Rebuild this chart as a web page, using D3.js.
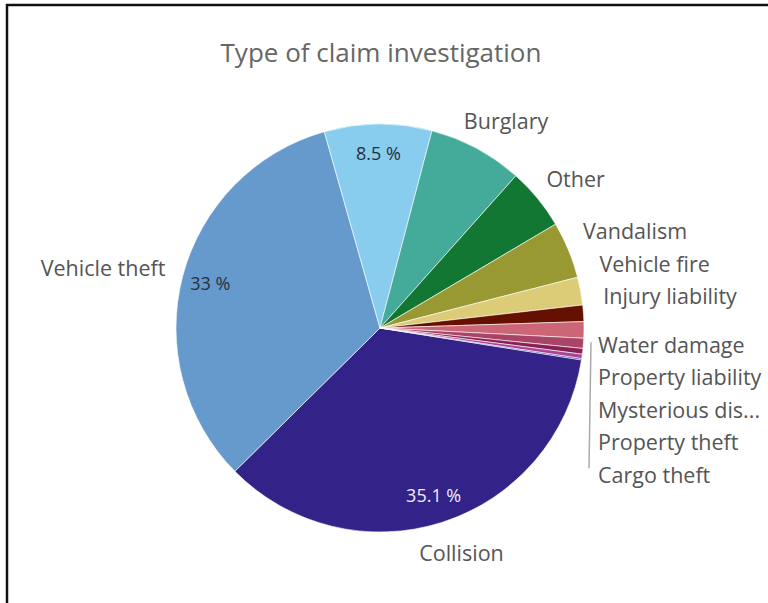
<!DOCTYPE html>
<html lang="en">

<head>
    <meta charset="UTF-8">
    <script src="https://d3js.org/d3.v7.min.js"></script>
    <style>
        body {
            margin: 0;
            background: #fff;
        }

        text {
            font-family: "Open Sans", sans-serif;
        }
    </style>
    <title>Type of claim investigation</title>
</head>

<body>
    <div class="canvas"></div>
    <script>
        // data (share of investigations, %)
        const categories = ['Collision', 'Vehicle theft', '', 'Burglary', 'Other', 'Vandalism', 'Vehicle fire',
            'Injury liability', 'Water damage', 'Property liability', 'Mysterious disappearance',
            'Property theft', 'Cargo theft']
        const values = [35.1, 33.0, 8.5, 7.5, 4.9, 4.5, 2.2, 1.3, 1.3, 0.8, 0.45, 0.35, 0.1]
        const palette = ['#332288', '#6699cc', '#88ccee', '#44aa99', '#117733', '#999933',
            '#ddcc77', '#661100', '#cc6677', '#aa4466', '#882255', '#aa4499']
        const title = 'Type of claim investigation'

        const areaWidth = 768
        const areaHeight = 603
        const svg = d3.select('.canvas')
            .append('svg')
            .attr('width', areaWidth)
            .attr('height', areaHeight)

        // frame of the screenshot
        svg.append('path')
            .attr('d', `M7,${areaHeight} V5 H${areaWidth}`)
            .attr('fill', 'none')
            .attr('stroke', '#111')
            .attr('stroke-width', 2.5)

        svg.append('text')
            .attr('x', 381)
            .attr('y', 52)
            .attr('text-anchor', 'middle')
            .attr('dominant-baseline', 'central')
            .attr('fill', '#666')
            .style('font-size', '26px')
            .text(title)

        const [cx, cy, radius] = [380, 328, 204]
        const labelR = radius + 20
        const lineGap = 32.5
        const labelSize = 21.5
        const start = 99 * Math.PI / 180

        const color = d3.scaleOrdinal()
            .domain(d3.range(values.length))
            .range(palette)

        const pie = d3.pie()
            .sort(null)
            .startAngle(start)
            .endAngle(start + 2 * Math.PI)
        const arcs = pie(values)
        const total = d3.sum(values)

        const arc = d3.arc().innerRadius(0).outerRadius(radius)
        const pctArc = d3.arc().innerRadius(radius * 0.86).outerRadius(radius * 0.86)

        const graph = svg.append('g')
            .attr('transform', `translate(${cx},${cy})`)

        graph.selectAll('path')
            .data(arcs)
            .enter()
            .append('path')
            .attr('d', arc)
            .attr('fill', d => color(d.index))
            .attr('stroke', '#fff')
            .attr('stroke-width', 0.6)

        // percentages inside the big slices
        const fmt = d3.format('.3~r')
        graph.selectAll('.pct')
            .data(arcs.filter(d => d.value / total >= 0.08))
            .enter()
            .append('text')
            .attr('class', 'pct')
            .attr('x', d => pctArc.centroid(d)[0])
            .attr('y', d => pctArc.centroid(d)[1])
            .attr('text-anchor', 'middle')
            .attr('dominant-baseline', 'central')
            .attr('fill', d => d3.hsl(color(d.index)).l < 0.4 ? '#eeeeff' : '#26303c')
            .style('font-size', '18px')
            .text(d => fmt(d.value / total * 100) + ' %')

        // outer labels
        const labels = arcs.filter(d => categories[d.index] !== '').map(d => {
            let mid = (d.startAngle + d.endAngle) / 2 % (2 * Math.PI)
            const deg = mid * 180 / Math.PI
            const kind = deg > 0 && deg <= 90 ? 'right' : (deg > 90 && deg < 135 ? 'group' : 'free')
            return { d, mid, kind, name: categories[d.index] }
        })

        const labelG = svg.append('g')
        labels.forEach(l => {
            l.el = labelG.append('text')
                .attr('dominant-baseline', 'central')
                .attr('fill', '#555')
                .style('font-size', labelSize + 'px')
                .text(l.name)
            l.w = l.el.node().getComputedTextLength()
            l.h = labelSize * 1.1
            const ax = cx + labelR * Math.sin(l.mid)
            const ay = cy - labelR * Math.cos(l.mid)
            l.x = ax - l.w * (1 - Math.sin(l.mid)) / 2
            l.y = ay - l.h / 2 * Math.cos(l.mid)
        })

        // small slices: stacked list with a bracket
        const group = labels.filter(l => l.kind === 'group')
        const groupTop = cy + lineGap / 2
        const groupX = cx + radius + 14
        group.forEach((l, i) => {
            l.x = groupX
            l.y = groupTop + i * lineGap
        })

        // right side labels pushed up so they clear the stacked list
        const right = labels.filter(l => l.kind === 'right').sort((a, b) => b.y - a.y)
        let limit = group.length ? groupTop - lineGap * 1.5 : Infinity
        right.forEach(l => {
            l.y = Math.min(l.y, limit)
            limit = l.y - lineGap
        })

        labels.forEach(l => {
            const maxW = areaWidth - l.x - 1
            if (l.w > maxW) {
                let n = l.name.length
                while (n > 1 && l.el.node().getComputedTextLength() > maxW) {
                    n--
                    l.el.text(l.name.slice(0, n).trimEnd() + '...')
                }
            }
            l.el.attr('x', l.x).attr('y', l.y)
        })

        if (group.length > 1) {
            svg.append('line')
                .attr('x1', groupX - 7)
                .attr('x2', groupX - 9)
                .attr('y1', group[0].y - 2)
                .attr('y2', group[group.length - 1].y - 6)
                .attr('stroke', '#aaa')
                .attr('stroke-width', 1.5)
        }
    </script>

</body>

</html>
